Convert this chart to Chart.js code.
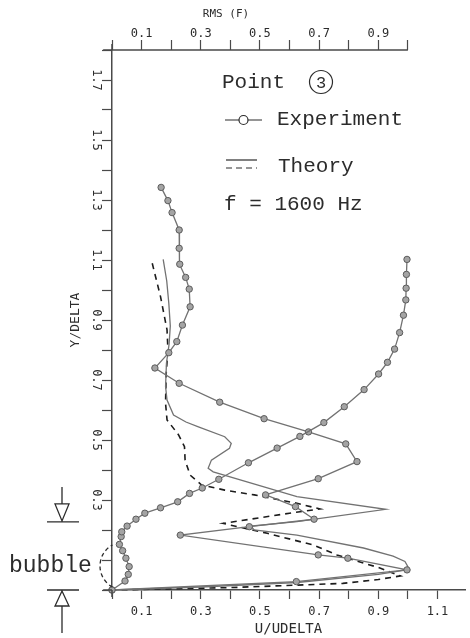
<!DOCTYPE html>
<html>
<head>
<meta charset="utf-8">
<script src="https://cdn.jsdelivr.net/npm/chart.js@4.4.1/dist/chart.umd.min.js"></script>
<style>
  html, body { margin: 0; padding: 0; background: #fff; }
  #wrap { width: 470px; height: 638px; }
</style>
</head>
<body>
<div id="wrap"><canvas id="chart" width="470" height="638"></canvas></div>
<script>
/* ============================================================
   Point 3, f = 1600 Hz  --  U/UDELTA and RMS(F) vs Y/DELTA
   ============================================================ */

// mean velocity, experiment (from the wall upwards)
const meanExperiment = [
  [0, 0], [0.044, 0.030], [0.055, 0.052], [0.058, 0.078], [0.047, 0.106], [0.036, 0.131],
  [0.025, 0.152], [0.031, 0.178], [0.033, 0.194], [0.051, 0.213], [0.081, 0.236], [0.111, 0.256],
  [0.164, 0.274], [0.222, 0.294], [0.262, 0.322], [0.305, 0.340], [0.361, 0.369], [0.461, 0.424],
  [0.558, 0.473], [0.635, 0.512], [0.716, 0.558], [0.785, 0.611], [0.852, 0.668], [0.901, 0.720],
  [0.931, 0.759], [0.955, 0.803], [0.972, 0.858], [0.985, 0.916], [0.993, 0.967], [0.994, 1.006],
  [0.995, 1.052], [0.997, 1.102]
];

// rms, experiment (from the top down to the wall)
const rmsExperiment = [
  [0.166, 1.342], [0.189, 1.298], [0.203, 1.258], [0.227, 1.200], [0.227, 1.139], [0.229, 1.086],
  [0.249, 1.042], [0.261, 1.003], [0.264, 0.944], [0.238, 0.883], [0.219, 0.828], [0.192, 0.791],
  [0.145, 0.740], [0.227, 0.689], [0.364, 0.626], [0.514, 0.571], [0.664, 0.527], [0.790, 0.487],
  [0.828, 0.428], [0.697, 0.371], [0.519, 0.317], [0.620, 0.278], [0.683, 0.236], [0.464, 0.211],
  [0.231, 0.183], [0.697, 0.117], [0.797, 0.106], [0.997, 0.067], [0.623, 0.028], [0, 0]
];

// theory, solid line
const theorySolid = [
  [0.173, 1.102], [0.185, 1.030], [0.192, 0.956], [0.197, 0.880], [0.193, 0.820], [0.184, 0.756],
  [0.181, 0.678], [0.186, 0.633], [0.208, 0.583], [0.250, 0.560], [0.292, 0.544], [0.381, 0.511],
  [0.403, 0.489], [0.397, 0.472], [0.336, 0.433], [0.325, 0.406], [0.342, 0.394], [0.625, 0.311],
  [0.925, 0.269], [0.625, 0.228], [0.470, 0.213], [0.480, 0.200], [0.625, 0.183], [0.850, 0.140],
  [0.950, 0.113], [0.990, 0.095], [1.000, 0.078], [0.990, 0.066], [0.900, 0.052], [0.625, 0.025],
  [0.300, 0.010], [0, 0]
];

// theory, dashed line
const theoryDashed = [
  [0.136, 1.089], [0.164, 0.978], [0.186, 0.867], [0.189, 0.800], [0.183, 0.720], [0.181, 0.622],
  [0.186, 0.567], [0.225, 0.517], [0.245, 0.478], [0.247, 0.433], [0.264, 0.383], [0.303, 0.350],
  [0.381, 0.333], [0.481, 0.317], [0.625, 0.289], [0.703, 0.270], [0.600, 0.256], [0.375, 0.222],
  [0.525, 0.189], [0.680, 0.150], [0.760, 0.117], [0.900, 0.075], [0.975, 0.047], [0.900, 0.035],
  [0.780, 0.022], [0.400, 0.008], [0, 0]
];

const X_MAX = 1.193;      // bottom axis runs a little past 1.1
const RMS_MAX = 1.0;      // top axis stops at 1.0
const Y_MAX = 1.8;
const TICK_STEP = 0.1;

const axisColor = '#4a4a4a';
const textColor = '#2c2c2c';
const lineGrey = '#727272';
const tickFont = { family: 'DejaVu Sans Mono', size: 12 };

const toXY = arr => arr.map(([x, y]) => ({ x, y }));

// only odd tenths get a number (0.1, 0.3, ...)
function oddTenth(v, skipFirst) {
  const k = Math.round(v * 10);
  if (k % 2 !== 1) return '';
  if (skipFirst && k === 1) return '';
  return (k / 10).toFixed(1);
}

const expStyle = {
  showLine: true,
  borderColor: lineGrey,
  borderWidth: 1.3,
  pointRadius: 3.2,
  pointBackgroundColor: '#a4a4a4',
  pointBorderColor: '#5c5c5c',
  pointBorderWidth: 1,
  tension: 0,
  clip: false
};

// annotations: legend block, top axis line, bubble marker
const notes = {
  id: 'notes',
  afterDraw(chart) {
    const { ctx, scales: { x, y, x2 } } = chart;
    ctx.save();
    ctx.strokeStyle = axisColor;
    ctx.lineWidth = 1.5;

    // top axis line (0 .. 1.0) and small overhangs at the origin
    const yTop = x2.bottom;
    ctx.beginPath();
    ctx.moveTo(x2.getPixelForValue(-0.03), yTop);
    ctx.lineTo(x2.getPixelForValue(RMS_MAX), yTop);
    ctx.moveTo(x.getPixelForValue(-0.03), y.getPixelForValue(0));
    ctx.lineTo(x.getPixelForValue(0), y.getPixelForValue(0));
    ctx.moveTo(x.getPixelForValue(0), y.getPixelForValue(Y_MAX) - 6);
    ctx.lineTo(x.getPixelForValue(0), y.getPixelForValue(Y_MAX));
    ctx.moveTo(x.getPixelForValue(0), y.getPixelForValue(0));
    ctx.lineTo(x.getPixelForValue(0), y.getPixelForValue(0) + 7);
    ctx.stroke();

    // top axis title
    ctx.fillStyle = textColor;
    ctx.font = '11px "DejaVu Sans Mono"';
    ctx.textAlign = 'center';
    ctx.textBaseline = 'middle';
    ctx.fillText('RMS (F)', 226, 14);

    // legend block
    ctx.font = '21px "Liberation Mono"';
    ctx.textAlign = 'left';
    ctx.textBaseline = 'alphabetic';
    ctx.fillText('Point', 222, 88);
    ctx.lineWidth = 1.2;
    ctx.strokeStyle = textColor;
    ctx.beginPath();
    ctx.arc(321, 82, 11.5, 0, Math.PI * 2);
    ctx.stroke();
    ctx.font = '17px "Liberation Mono"';
    ctx.textAlign = 'center';
    ctx.fillText('3', 321, 88);

    ctx.beginPath();
    ctx.moveTo(225, 120);
    ctx.lineTo(262, 120);
    ctx.stroke();
    ctx.beginPath();
    ctx.fillStyle = '#fff';
    ctx.arc(243.5, 120, 4.5, 0, Math.PI * 2);
    ctx.fill();
    ctx.stroke();

    ctx.fillStyle = textColor;
    ctx.font = '21px "Liberation Mono"';
    ctx.textAlign = 'left';
    ctx.fillText('Experiment', 277, 125);

    ctx.beginPath();
    ctx.moveTo(226, 160);
    ctx.lineTo(257, 160);
    ctx.stroke();
    ctx.setLineDash([6, 4]);
    ctx.beginPath();
    ctx.moveTo(226, 168);
    ctx.lineTo(257, 168);
    ctx.stroke();
    ctx.setLineDash([]);
    ctx.fillText('Theory', 278, 172);
    ctx.fillText('f = 1600 Hz', 224, 210);

    // bubble extent marker left of the axis
    const xa = 62;
    const yBub = y.getPixelForValue(0.227);
    const y0 = y.getPixelForValue(0);
    ctx.lineWidth = 1.3;
    ctx.beginPath();
    ctx.moveTo(xa, yBub - 35);
    ctx.lineTo(xa, yBub - 18);
    ctx.moveTo(xa - 7, yBub - 18);
    ctx.lineTo(xa + 7, yBub - 18);
    ctx.lineTo(xa, yBub - 1);
    ctx.closePath();
    ctx.moveTo(xa - 15, yBub);
    ctx.lineTo(xa + 17, yBub);
    ctx.stroke();

    ctx.beginPath();
    ctx.moveTo(xa - 15, y0);
    ctx.lineTo(xa + 17, y0);
    ctx.moveTo(xa, y0 + 1);
    ctx.lineTo(xa - 7, y0 + 16);
    ctx.lineTo(xa + 7, y0 + 16);
    ctx.closePath();
    ctx.moveTo(xa, y0 + 16);
    ctx.lineTo(xa, y0 + 43);
    ctx.stroke();

    ctx.font = '23px "Liberation Mono"';
    ctx.fillText('bubble', 9, 572);

    ctx.setLineDash([4, 3]);
    ctx.beginPath();
    ctx.arc(124, 566, 24, Math.PI * 0.66, Math.PI * 1.34);
    ctx.stroke();
    ctx.restore();
  }
};

new Chart(document.getElementById('chart'), {
  type: 'scatter',
  data: {
    datasets: [
      { label: 'U experiment', data: toXY(meanExperiment), ...expStyle },
      { label: 'RMS experiment', data: toXY(rmsExperiment), ...expStyle },
      {
        label: 'Theory', data: toXY(theorySolid), showLine: true,
        borderColor: lineGrey, borderWidth: 1.3, pointRadius: 0, tension: 0, clip: false
      },
      {
        label: 'Theory (dashed)', data: toXY(theoryDashed), showLine: true,
        borderColor: '#1c1c1c', borderWidth: 1.6, borderDash: [6, 5], pointRadius: 0, tension: 0, clip: false
      }
    ]
  },
  options: {
    responsive: false,
    animation: false,
    devicePixelRatio: 1,
    layout: { padding: 0 },
    plugins: { legend: { display: false }, tooltip: { enabled: false } },
    scales: {
      x: {
        type: 'linear', position: 'bottom', min: 0, max: X_MAX,
        afterFit: s => { s.height = 48; },
        border: { color: axisColor, width: 1.5 },
        grid: { drawOnChartArea: false, tickLength: 9, tickColor: axisColor, tickWidth: 1.2 },
        ticks: {
          stepSize: TICK_STEP, includeBounds: false, minRotation: 0, maxRotation: 0, padding: 6,
          color: textColor, font: tickFont, callback: v => oddTenth(v, false)
        },
        title: {
          display: true, text: 'U/UDELTA', color: textColor,
          font: { family: 'DejaVu Sans Mono', size: 14 }, padding: { top: 0, bottom: 0 }
        }
      },
      x2: {
        type: 'linear', position: 'top', min: 0, max: X_MAX,
        afterFit: s => { s.height = 50; },
        afterBuildTicks: s => { s.ticks = s.ticks.filter(t => t.value <= RMS_MAX + 1e-4); },
        border: { display: false },
        grid: { drawOnChartArea: false, tickLength: 10, tickColor: axisColor, tickWidth: 1.2 },
        ticks: {
          stepSize: TICK_STEP, includeBounds: false, minRotation: 0, maxRotation: 0, padding: -1,
          color: textColor, font: tickFont, callback: v => oddTenth(v, false)
        }
      },
      y: {
        type: 'linear', position: 'left', min: 0, max: Y_MAX,
        afterFit: s => { s.width = 112; },
        border: { color: axisColor, width: 1.5 },
        grid: { drawOnChartArea: false, tickLength: 10, tickColor: axisColor, tickWidth: 1.2 },
        ticks: {
          stepSize: TICK_STEP, includeBounds: false, minRotation: -90, maxRotation: -90,
          crossAlign: 'center', padding: -5,
          color: textColor, font: tickFont, callback: v => oddTenth(v, true)
        },
        title: {
          display: true, text: 'Y/DELTA', color: textColor,
          font: { family: 'DejaVu Sans Mono', size: 13 }, padding: { top: 68, bottom: 0 }
        }
      }
    }
  },
  plugins: [notes]
});
</script>
</body>
</html>
